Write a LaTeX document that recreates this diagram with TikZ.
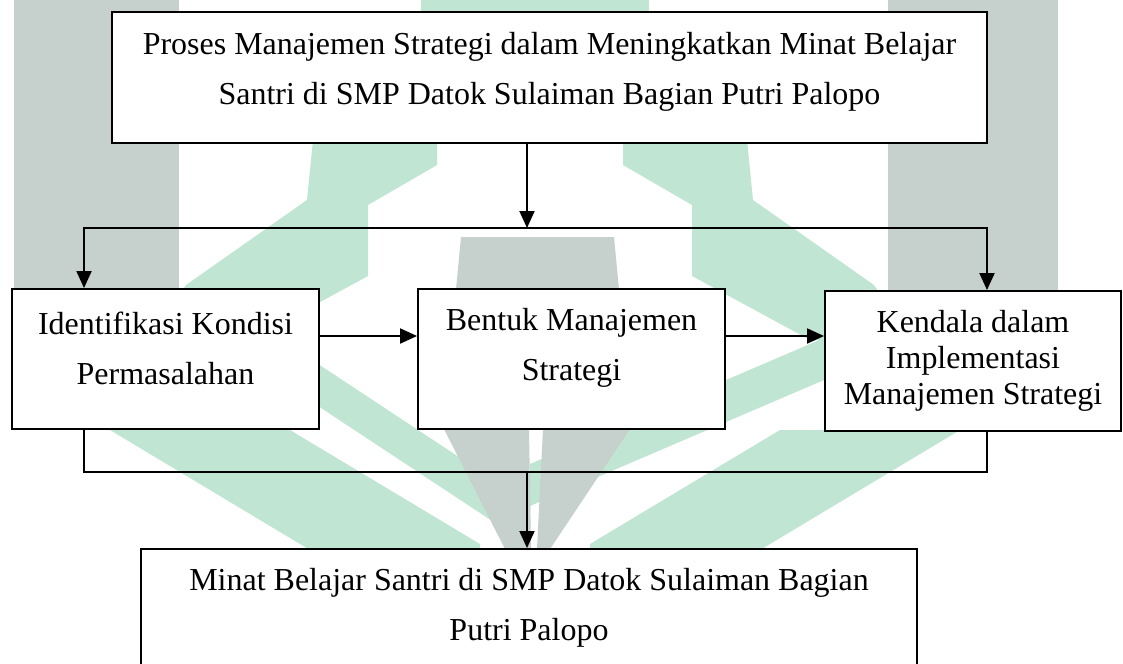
\documentclass[tikz,border=0pt]{standalone}
\usepackage{fontspec}
\setmainfont{Liberation Serif}
\usetikzlibrary{arrows.meta,calc}
\definecolor{wmG}{RGB}{198,208,204}
\definecolor{wmE}{RGB}{192,230,211}
\begin{document}
\begin{tikzpicture}[x=0.02cm,y=-0.02cm,
  box/.style={draw=black,line width=1.1pt,fill=white,inner sep=0pt},
  txt/.style={align=center,inner sep=0pt,font=\fontsize{18.2}{28.5}\selectfont},
  txtS/.style={align=center,inner sep=0pt,font=\fontsize{18.2}{20.3}\selectfont},
  conn/.style={line width=1.1pt},
  arr/.style={conn,-{Triangle[length=0.34cm,width=0.3cm]}},
  wmgray/.style={fill=wmG,draw=none},
  wmgreen/.style={fill=wmE,draw=none}]
\useasboundingbox (0,0) rectangle (1123,663);
\fill[white] (0,0) rectangle (1123,663);
% watermark: green
\fill[wmgreen] (421,0) -- (649,0) -- (649,30) -- (421,30) -- cycle;
\fill[wmgreen] (315,120) -- (437,120) -- (437,165) -- (368,205) -- (368,276) -- (250,340) -- (150,340) -- (186,285) -- (307,200) -- cycle;
\fill[wmgreen] (745,120) -- (623,120) -- (623,165) -- (692,205) -- (692,276) -- (810,340) -- (910,340) -- (874,285) -- (753,200) -- cycle;
\fill[wmgreen] (250,319) -- (530,504) -- (530,546) -- (250,361) -- cycle;
\fill[wmgreen] (880,314) -- (530,464) -- (530,506) -- (880,356) -- cycle;
\fill[wmgreen] (110,430) -- (290,430) -- (480,544) -- (480,652) -- cycle;
\fill[wmgreen] (960,430) -- (780,430) -- (590,544) -- (590,652) -- cycle;
% watermark: gray
\fill[wmgray] (14,0) rectangle (179,400);
\fill[wmgray] (888,0) rectangle (1058,400);
\fill[wmgray] (461,237) -- (614,237) -- (620,300) -- (455,300) -- cycle;
\fill[wmgray] (444,429) -- (529,429) -- (531,549) -- (505,549) -- cycle;
\fill[wmgray] (543,429) -- (630,429) -- (550,549) -- (537,549) -- cycle;
% boxes
\node[box,minimum width=17.5cm,minimum height=2.62cm] (T) at (549.5,77.5) {};
\node[txt] (Tt) at ([yshift=0.11cm]T.center) {Proses Manajemen Strategi dalam Meningkatkan Minat Belajar\\Santri di SMP Datok Sulaiman Bagian Putri Palopo};
\node[box,minimum width=6.14cm,minimum height=2.8cm] (L) at (165.5,359) {};
\node[txt] (Lt) at ([yshift=0.22cm]L.center) {Identifikasi Kondisi\\Permasalahan};
\node[box,minimum width=6.14cm,minimum height=2.8cm] (M) at (571.5,359) {};
\node[txt] (Mt) at ([yshift=0.22cm]M.center) {Bentuk Manajemen\\Strategi};
\node[box,minimum width=5.92cm,minimum height=2.8cm] (R) at (973,361) {};
\node[txtS] (Rt) at (R.center) {Kendala dalam\\Implementasi\\Manajemen Strategi};
\node[box,minimum width=15.52cm,minimum height=2.34cm] (B) at (529,607.5) {};
\node[txt] (Bt) at (B.center) {Minat Belajar Santri di SMP Datok Sulaiman Bagian\\Putri Palopo};
% connectors
\coordinate (J1) at (527,228);
\coordinate (J2) at (527,472);
\draw[arr] (T.south -| J1) -- (J1);
\draw[arr] (J1) -| ([xshift=-1.63cm]L.north);
\draw[arr] (J1) -| ([xshift=0.28cm]R.north);
\draw[arr] ([yshift=0.46cm]L.east) -- ([yshift=0.46cm]M.west);
\draw[arr] ([yshift=0.46cm]M.east) -- ([yshift=0.46cm]M.east -| R.west);
\draw[conn] ([xshift=-1.63cm]L.south) |- (J2);
\draw[conn] ([xshift=0.28cm]R.south) |- (J2);
\draw[arr] (J2) -- (B.north -| J2);
\end{tikzpicture}
\end{document}
